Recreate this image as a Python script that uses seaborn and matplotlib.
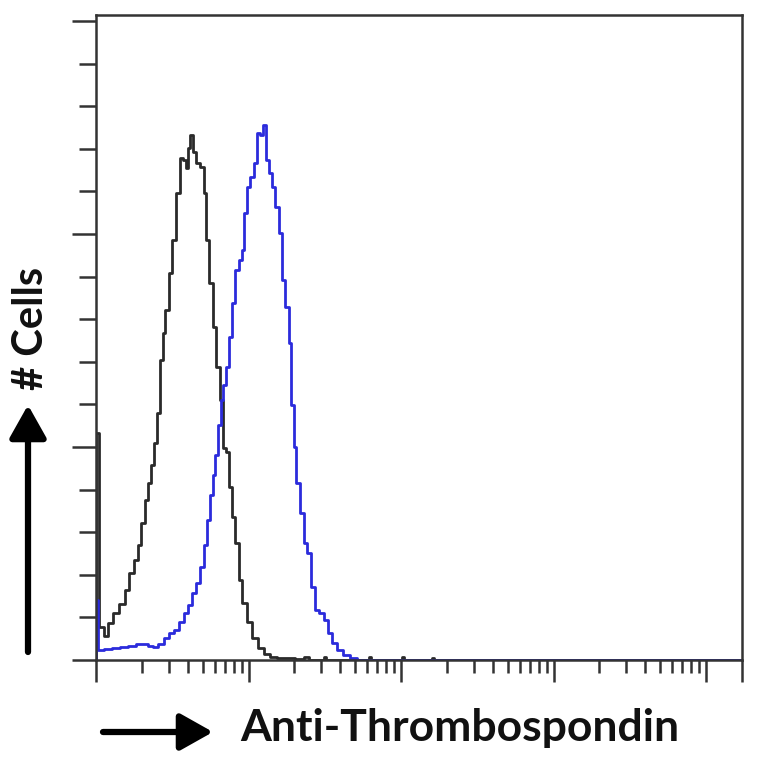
import numpy as np
import pandas as pd
import seaborn as sns
import matplotlib.pyplot as plt
from matplotlib.ticker import FixedLocator, LogLocator, NullFormatter

# isotype control (black) - fluorescence vs. counts
ctrl_x = [0.99, 1.00, 1.08, 1.16, 1.24, 1.35, 1.48, 1.60, 1.70, 1.83, 1.94, 2.03, 2.13,
          2.23, 2.33, 2.44, 2.55, 2.67, 2.79, 2.92, 3.06, 3.25, 3.45, 3.61, 3.78, 3.95,
          4.13, 4.20, 4.39, 4.67, 4.96, 5.19, 5.35, 5.68, 5.94, 6.31, 6.61, 6.91, 7.23,
          7.57, 7.91, 8.41, 8.80, 9.34, 10.07, 11.03, 12.08, 13.22, 14.48, 16.10, 18.71,
          21.8, 24.2, 25.5, 30.5, 31.7, 33.0, 60.5, 62.6, 65.0, 100.0, 103.0, 106.0,
          157.0, 162.0, 167.0, 1000.0, 18000.0]
ctrl_y = [0, 53.3, 7.7, 5.6, 8.7, 11.0, 13.1, 16.4, 20.4, 23.5, 27.0, 32.2, 37.6,
          41.5, 45.8, 50.9, 58.0, 70.4, 76.8, 82.2, 90.8, 98.6, 109.6, 117.8, 117.4, 115.5,
          120.2, 123.2, 119.2, 116.7, 115.7, 109.6, 98.6, 88.5, 78.2, 68.8, 61.0, 49.8, 48.8,
          40.6, 33.6, 27.5, 18.8, 13.4, 8.9, 5.2, 2.8, 1.4, 0.7, 0.5, 0.5,
          0.2, 0.7, 0, 0, 0.8, 0, 0, 0.7, 0, 0, 0.6, 0,
          0, 0.5, 0, 0, 0]

# anti-thrombospondin stained (blue)
stain_x = [0.99, 1.00, 1.06, 1.20, 1.35, 1.53, 1.72, 1.94, 2.13, 2.26, 2.44, 2.67, 2.88,
           3.10, 3.35, 3.61, 3.89, 4.13, 4.39, 4.67, 4.96, 5.19, 5.42, 5.68, 5.94, 6.21,
           6.50, 6.70, 7.01, 7.23, 7.57, 7.91, 8.41, 8.93, 9.20, 9.48, 9.93, 10.54, 11.20,
           11.54, 12.08, 12.64, 13.22, 13.84, 14.48, 15.38, 16.10, 16.83, 17.88, 18.71,
           19.28, 20.18, 21.1, 22.4, 23.5, 24.9, 26.5, 28.1, 30.3, 32.7, 34.2, 36.4,
           39.8, 43.6, 48.4, 53.8, 1000.0, 18000.0]
stain_y = [0, 14.1, 2.3, 2.6, 2.8, 3.1, 3.3, 3.8, 3.8, 3.3, 3.1, 3.8, 5.2,
           6.3, 7.0, 8.9, 11.0, 12.9, 15.7, 18.1, 21.8, 27.0, 32.9, 38.7, 43.4, 48.1,
           55.2, 61.0, 64.6, 68.8, 75.8, 83.8, 91.5, 93.9, 96.2, 104.9, 111.0, 113.4, 116.7,
           123.7, 123.2, 125.6, 117.4, 114.3, 111.0, 106.3, 100.2, 89.2, 82.9, 74.4,
           59.9, 50.0, 41.5, 34.5, 27.5, 25.1, 17.1, 11.7, 11.0, 9.4, 6.3, 4.0,
           2.3, 1.2, 0.5, 0, 0, 0]

x_min, x_max = 1.0, 17220.0
y_max = 151.4

sns.set_style('ticks')
plt.rcParams['font.family'] = ['Lato', 'DejaVu Sans']

fig = plt.figure(figsize=(7.64, 7.64), dpi=100)
ax = fig.add_axes((96 / 764, 104 / 764, 646 / 764, 645 / 764))

ctrl = pd.DataFrame({'x': ctrl_x, 'y': ctrl_y})
stain = pd.DataFrame({'x': stain_x, 'y': stain_y})
sns.lineplot(data=ctrl, x='x', y='y', ax=ax, color='#2a2a2a', lw=2.0,
             drawstyle='steps-mid', estimator=None)
sns.lineplot(data=stain, x='x', y='y', ax=ax, color='#2b2bdc', lw=2.0,
             drawstyle='steps-mid', estimator=None)

ax.set_xscale('log')
ax.set_xlim(x_min, x_max)
ax.set_ylim(0, y_max)

ax.xaxis.set_major_locator(FixedLocator([1, 10, 100, 1000, 10000, x_max]))
ax.xaxis.set_minor_locator(LogLocator(base=10, subs=np.arange(2, 10), numticks=20))
ax.yaxis.set_major_locator(FixedLocator([0, 50, 100, 150]))
ax.yaxis.set_minor_locator(FixedLocator(np.arange(0, 151, 10)))
ax.xaxis.set_major_formatter(NullFormatter())
ax.xaxis.set_minor_formatter(NullFormatter())
ax.yaxis.set_major_formatter(NullFormatter())
ax.set_xlabel('')
ax.set_ylabel('')

ax.tick_params(axis='x', which='major', length=16, width=1.8, color='#333333', direction='out')
ax.tick_params(axis='x', which='minor', length=9, width=1.8, color='#333333', direction='out')
ax.tick_params(axis='y', which='major', length=17, width=1.8, color='#333333', direction='out')
ax.tick_params(axis='y', which='minor', length=12, width=1.8, color='#333333', direction='out')

for side in ['top', 'right', 'bottom', 'left']:
    ax.spines[side].set_visible(True)
    ax.spines[side].set_color('#333333')
    ax.spines[side].set_linewidth(1.8)

fig.text(240 / 764, 1 - 728 / 764, 'Anti-Thrombospondin', fontsize=32, fontweight='bold',
         ha='left', va='center', color='#111111')
fig.text(31 / 764, 1 - 328 / 764, '# Cells', fontsize=30, fontweight='bold',
         rotation=90, ha='center', va='center', color='#111111')

ax.annotate('', xy=(213 / 764, 1 - 732 / 764), xytext=(103 / 764, 1 - 732 / 764),
            xycoords='figure fraction', textcoords='figure fraction', annotation_clip=False,
            arrowprops=dict(arrowstyle='-|>,head_length=0.8,head_width=0.45', lw=4.5,
                            color='black', shrinkA=0, shrinkB=0, mutation_scale=25))
ax.annotate('', xy=(28 / 764, 1 - 405 / 764), xytext=(28 / 764, 1 - 652 / 764),
            xycoords='figure fraction', textcoords='figure fraction', annotation_clip=False,
            arrowprops=dict(arrowstyle='-|>,head_length=0.8,head_width=0.45', lw=4.5,
                            color='black', shrinkA=0, shrinkB=0, mutation_scale=25))

fig.savefig('out.png', dpi=100)
